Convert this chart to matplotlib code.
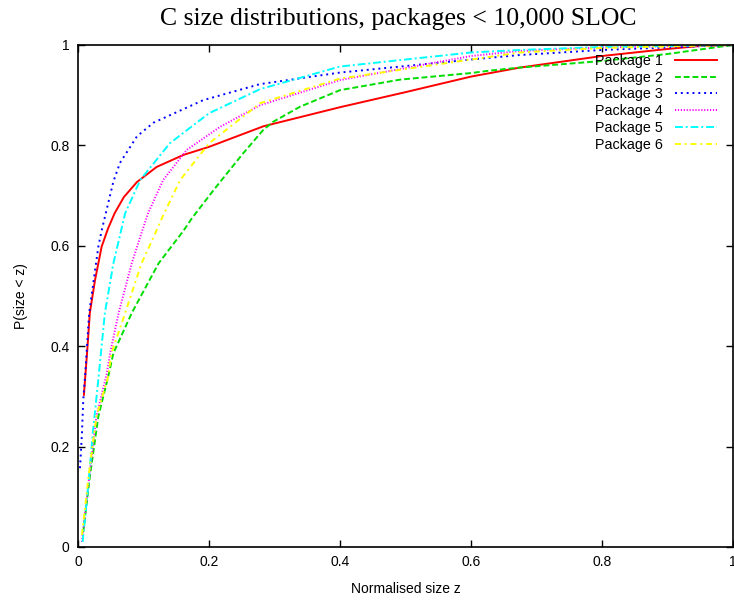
import matplotlib
matplotlib.use("Agg")
import matplotlib.pyplot as plt

# values (normalised size z, cumulative P)
z1 = [0.009, 0.0107, 0.014, 0.018, 0.026, 0.036, 0.046, 0.056, 0.07, 0.09, 0.12,
      0.161, 0.2, 0.283, 0.4, 0.5, 0.6, 0.675, 0.8, 0.9, 0.95, 1.0]
p1 = [0.303, 0.333, 0.39, 0.466, 0.532, 0.598, 0.635, 0.665, 0.697, 0.727, 0.757,
      0.781, 0.797, 0.838, 0.876, 0.906, 0.937, 0.955, 0.978, 0.992, 0.998, 1.0]

z2 = [0.008, 0.018, 0.031, 0.046, 0.054, 0.082, 0.123, 0.161, 0.174, 0.207, 0.252,
      0.283, 0.298, 0.339, 0.4, 0.492, 0.6, 0.629, 0.675, 0.8, 0.9, 1.0]
p2 = [0.03, 0.14, 0.26, 0.339, 0.386, 0.466, 0.565, 0.63, 0.655, 0.711, 0.784,
      0.831, 0.847, 0.877, 0.91, 0.931, 0.944, 0.949, 0.955, 0.968, 0.982, 1.0]

z3 = [0.003, 0.006, 0.008, 0.011, 0.017, 0.031, 0.036, 0.054, 0.064, 0.09, 0.115,
      0.191, 0.278, 0.4, 0.6, 0.675, 0.8, 1.0]
p3 = [0.157, 0.226, 0.293, 0.345, 0.466, 0.598, 0.63, 0.728, 0.765, 0.818, 0.845,
      0.89, 0.922, 0.945, 0.971, 0.98, 0.99, 1.0]

z4 = [0.006, 0.016, 0.028, 0.044, 0.049, 0.062, 0.082, 0.098, 0.107, 0.13, 0.166,
      0.217, 0.278, 0.4, 0.6, 0.675, 0.8, 1.0]
p4 = [0.01, 0.127, 0.26, 0.346, 0.386, 0.466, 0.565, 0.63, 0.665, 0.731, 0.791,
      0.837, 0.88, 0.93, 0.978, 0.988, 0.995, 1.0]

z5 = [0.007, 0.016, 0.023, 0.031, 0.036, 0.041, 0.054, 0.072, 0.095, 0.14, 0.2,
      0.278, 0.4, 0.6, 0.675, 0.8, 1.0]
p5 = [0.01, 0.127, 0.233, 0.333, 0.40, 0.466, 0.565, 0.665, 0.731, 0.804, 0.864,
      0.912, 0.957, 0.985, 0.99, 0.996, 1.0]

z6 = [0.006, 0.016, 0.028, 0.046, 0.051, 0.072, 0.097, 0.118, 0.128, 0.156, 0.2,
      0.278, 0.4, 0.6, 0.675, 0.8, 1.0]
p6 = [0.024, 0.14, 0.26, 0.339, 0.386, 0.466, 0.565, 0.625, 0.655, 0.731, 0.804,
      0.884, 0.933, 0.971, 0.985, 0.994, 1.0]

labels = ["Package 1", "Package 2", "Package 3", "Package 4", "Package 5", "Package 6"]
ticks = [0, 0.2, 0.4, 0.6, 0.8, 1]
tick_labels = ["0", "0.2", "0.4", "0.6", "0.8", "1"]

series = [(z1, p1), (z2, p2), (z3, p3), (z4, p4), (z5, p5), (z6, p6)]
colors = ["#ff0000", "#00dd00", "#0000ff", "#ff00ff", "#00ffff", "#ffff00"]
dashes = [None, (3, 1.5), (1, 2), (0.6, 0.9), (4, 1.5, 1, 1.5), (3, 2, 1, 2)]

plt.rcParams["font.family"] = ["Liberation Sans", "DejaVu Sans"]

fig = plt.figure(figsize=(7.34, 6.05), dpi=100)
ax = fig.add_axes([0.1063, 0.0959, 0.8924, 0.8298])

for (z, p), lab, c, d in zip(series, labels, colors, dashes):
    line, = ax.plot(z, p, color=c, lw=1.4, label=lab)
    if d is not None:
        line.set_dashes(d)

ax.set_xlim(0, 1)
ax.set_ylim(0, 1)
ax.set_xticks(ticks)
ax.set_xticklabels(tick_labels)
ax.set_yticks(ticks)
ax.set_yticklabels(tick_labels)
ax.tick_params(direction="in", length=5, width=1, top=True, right=True,
               labelsize=10, pad=6)
for s in ax.spines.values():
    s.set_linewidth(1.2)

ax.set_xlabel("Normalised size z", fontsize=10, labelpad=9)
ax.set_ylabel("P(size < z)", fontsize=10, labelpad=16)
fig.text(0.543, 0.968, "C size distributions, packages < 10,000 SLOC",
         ha="center", va="center", fontsize=18.5, family="Liberation Serif")

ax.legend(loc="upper right", bbox_to_anchor=(0.985, 0.994), frameon=False,
          markerfirst=False, fontsize=10.3, handlelength=3.0, handletextpad=0.8,
          labelspacing=0.2, borderaxespad=0)

fig.savefig("out.png", dpi=100)
